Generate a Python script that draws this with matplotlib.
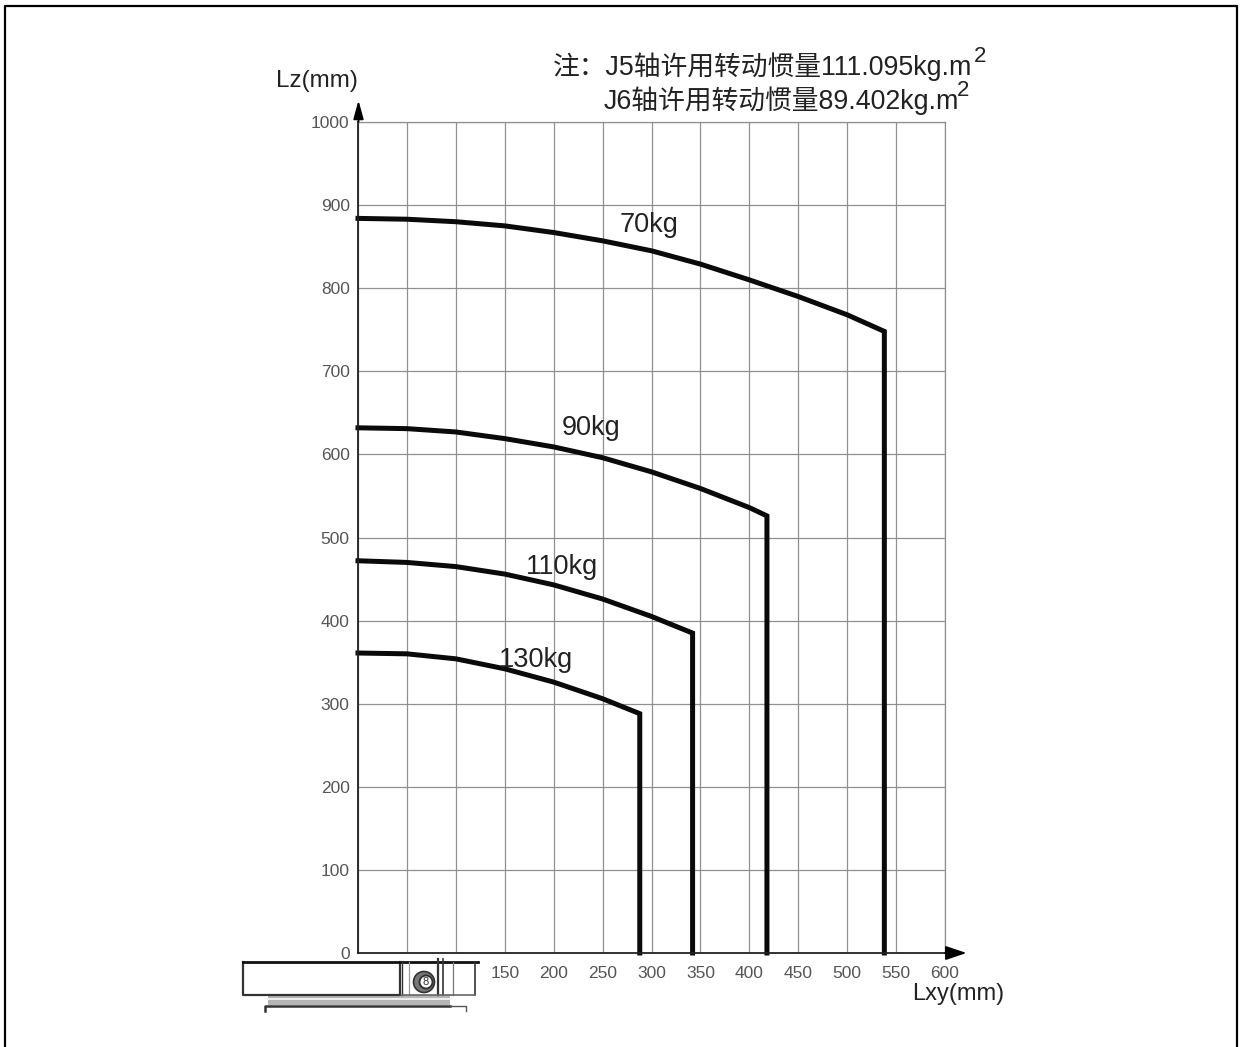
#Import necessary libraries
import matplotlib
matplotlib.use('Agg')
import matplotlib.pyplot as plt
from matplotlib.patches import Circle, Rectangle

plt.rcParams['font.family'] = ['Liberation Sans', 'Noto Sans CJK SC', 'DejaVu Sans']

#Values
x_70 = [0, 50, 100, 150, 200, 250, 300, 350, 400, 450, 500, 538, 538]
y_70 = [884, 883, 880, 875, 867, 857, 845, 829, 810, 790, 768, 748, 0]
x_90 = [0, 50, 100, 150, 200, 250, 300, 350, 400, 418, 418]
y_90 = [632, 631, 627, 619, 609, 596, 579, 559, 536, 526, 0]
x_110 = [0, 50, 100, 150, 200, 250, 300, 342, 342]
y_110 = [472, 470, 465, 456, 443, 426, 405, 385, 0]
x_130 = [0, 50, 100, 150, 200, 250, 288, 288]
y_130 = [361, 360, 354, 342, 326, 306, 288, 0]
load_names = ['70kg', '90kg', '110kg', '130kg']
x_ticks = list(range(0, 601, 50))
y_ticks = list(range(0, 1001, 100))
x_tick_labels = ['', '', ''] + [str(v) for v in x_ticks[3:]]

W, H = 1242, 1047
fig = plt.figure(figsize=(W / 100, H / 100), dpi=100)

#Full picture overlay in pixel coordinates, for frame and flange drawing
bg = fig.add_axes([0, 0, 1, 1], zorder=0)
bg.set_xlim(0, W)
bg.set_ylim(H, 0)
bg.axis('off')
bg.plot([5, 5, 1237, 1237], [1047, 6, 6, 1047], color='black', lw=1.6)

ax = fig.add_axes([358 / W, 1 - 953 / H, (945 - 358) / W, (953 - 122) / H], zorder=1)
ax.patch.set_alpha(0)
ax.set_xlim(0, 600)
ax.set_ylim(0, 1000)
ax.set_xticks(x_ticks)
ax.set_yticks(y_ticks)
ax.set_xticklabels(x_tick_labels, fontsize=12.5, color='#555555')
ax.set_yticklabels([str(v) for v in y_ticks], fontsize=12.5, color='#555555')
ax.tick_params(axis='x', length=0, pad=9)
ax.tick_params(axis='y', length=0, pad=6)
ax.grid(color='#909090', lw=0.9)
ax.set_axisbelow(True)
for side in ['top', 'right']:
    ax.spines[side].set_color('#909090')
    ax.spines[side].set_linewidth(0.9)
for side in ['left', 'bottom']:
    ax.spines[side].set_color('#222222')
    ax.spines[side].set_linewidth(1.3)

for xs, ys in [(x_70, y_70), (x_90, y_90), (x_110, y_110), (x_130, y_130)]:
    ax.plot(xs, ys, color='#0a0a0a', lw=3.6, solid_joinstyle='miter', clip_on=False)

ax.text(297, 876, load_names[0], fontsize=19.5, color='#222222', ha='center', va='center')
ax.text(238, 632, load_names[1], fontsize=19.5, color='#222222', ha='center', va='center')
ax.text(209, 464, load_names[2], fontsize=19.5, color='#222222', ha='center', va='center')
ax.text(182, 353, load_names[3], fontsize=19.5, color='#222222', ha='center', va='center')

#Axis arrows
y_arrow = dict(arrowstyle='-|>,head_width=0.22,head_length=0.8', color='black', lw=1.3,
               mutation_scale=14, shrinkA=0, shrinkB=0)
x_arrow = dict(arrowstyle='-|>,head_width=0.27,head_length=0.8', color='black', lw=1.3,
               mutation_scale=16, shrinkA=0, shrinkB=0)
ax.annotate('', xy=(0.5, 1026), xytext=(0.5, 1000), annotation_clip=False, arrowprops=y_arrow)
ax.annotate('', xy=(622, 0), xytext=(600, 0), annotation_clip=False, arrowprops=x_arrow)

bg.text(317, 81, 'Lz(mm)', fontsize=17.5, color='#222222', ha='center', va='center')
bg.text(958, 994, 'Lxy(mm)', fontsize=17, color='#222222', ha='center', va='center')
bg.text(553, 67, '注：J5轴许用转动惯量111.095kg.m', fontsize=19.3, color='#222222', ha='left', va='center')
bg.text(974, 56, '2', fontsize=16, color='#222222', ha='left', va='center')
bg.text(604, 101, 'J6轴许用转动惯量89.402kg.m', fontsize=19.3, color='#222222', ha='left', va='center')
bg.text(957, 90, '2', fontsize=16, color='#222222', ha='left', va='center')

#Flange drawing under the origin
dark = '#333333'
bg.add_patch(Rectangle((268, 995), 182, 10, fc='#b5b5b5', ec='none', zorder=2))
bg.plot([268, 450], [999, 999], color='#f0f0f0', lw=1.4, zorder=3)
bg.plot([243, 243, 400, 400], [962, 995, 995, 962], color=dark, lw=1.6, zorder=4)
bg.plot([243, 478], [962, 962], color='#111111', lw=2.0, zorder=4)
bg.plot([402, 402], [962, 995], color=dark, lw=1.0, zorder=4)
bg.plot([409, 409], [962, 995], color='#999999', lw=0.9, zorder=4)
bg.plot([438, 438], [959, 995], color=dark, lw=1.6, zorder=4)
bg.plot([443, 443], [959, 995], color=dark, lw=1.2, zorder=4)
bg.plot([453, 453], [962, 995], color='#777777', lw=0.9, zorder=4)
bg.plot([475, 475], [962, 995], color=dark, lw=1.2, zorder=4)
bg.plot([402, 475], [995, 995], color='#666666', lw=1.2, zorder=4)
bg.add_patch(Circle((424, 982), 10.5, fc='#777777', ec=dark, lw=1.2, zorder=4))
bg.add_patch(Circle((426, 982), 6.5, fc='white', ec=dark, lw=1.4, zorder=5))
bg.text(426, 982, '8', fontsize=8, color=dark, ha='center', va='center', zorder=6)
bg.plot([265, 265, 450], [1011, 1006, 1006], color='#333333', lw=1.8, zorder=4)
bg.plot([450, 466, 466], [1006, 1006, 1011], color='#555555', lw=1.0, zorder=4)

fig.savefig('out.png', dpi=100)
